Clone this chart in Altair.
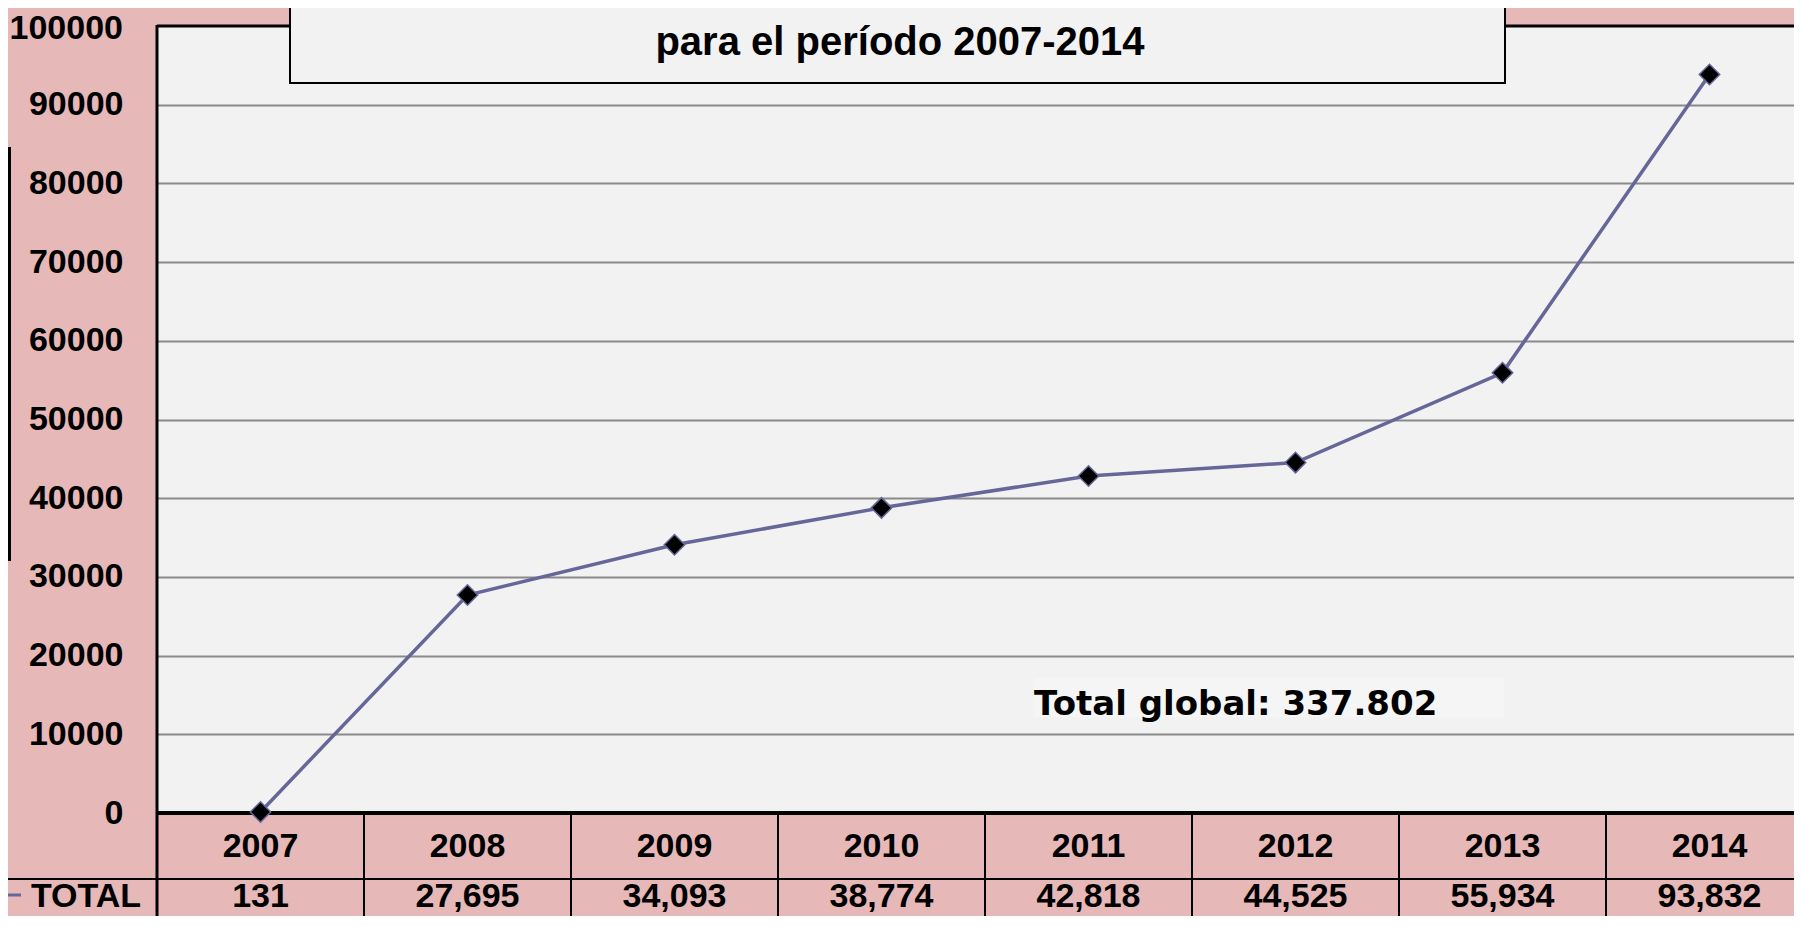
import altair as alt
import pandas as pd

# ---- data ----
years = [2007, 2008, 2009, 2010, 2011, 2012, 2013, 2014]
totals = [131, 27695, 34093, 38774, 42818, 44525, 55934, 93832]
y_label_ticks = [0, 10000, 20000, 30000, 40000, 50000, 60000, 70000, 80000, 90000]
top_tick_label = ["100000"]
series_name = "TOTAL"
title_text = "para el período 2007-2014"
total_label = "Total global: 337.802"

df = pd.DataFrame({"year": years, "total": totals})

PINK = "#E6B8B7"
PLOT = "#F2F2F2"
LINE = "#666699"
FONT = "Liberation Sans"

W, H = 1637, 787          # plot area (clipped at right edge like the reference)
COL_W = 207               # width of one year column in px
xs = alt.Scale(domain=[2006.5, 2006.5 + W / COL_W], nice=False, zero=False)
ys = alt.Scale(domain=[0, 100000], nice=False, zero=False)

ROW2_BASE = 881


def one(**kw):
    return alt.Chart(pd.DataFrame(kw if kw else {"a": [0]}))


# table cells
cells = alt.Chart(df).transform_calculate(x0="datum.year - 0.5", x1="datum.year + 0.5")
row1 = cells.mark_rect(fill=PINK, stroke="black", strokeWidth=2).encode(
    x=alt.X("x0:Q", scale=xs, axis=None), x2="x1:Q",
    y=alt.value(787), y2=alt.value(853))
row2 = cells.mark_rect(fill=PINK, stroke="black", strokeWidth=2).encode(
    x=alt.X("x0:Q", scale=xs, axis=None), x2="x1:Q",
    y=alt.value(853), y2=alt.value(980))

year_text = alt.Chart(df).mark_text(font=FONT, fontWeight="bold", fontSize=34,
                                    baseline="middle", align="center", color="black").encode(
    x=alt.X("year:Q", scale=xs, axis=None), y=alt.value(821),
    text=alt.Text("year:Q", format="d"))
val_text = alt.Chart(df).mark_text(font=FONT, fontWeight="bold", fontSize=34,
                                   baseline="alphabetic", align="center", color="black").encode(
    x=alt.X("year:Q", scale=xs, axis=None), y=alt.value(ROW2_BASE),
    text=alt.Text("total:Q", format=","))

# left column of the table: legend key + series name
row_sep = one().mark_rule(color="black", strokeWidth=2).encode(
    x=alt.value(-170), x2=alt.value(W + 50), y=alt.value(853))
key_line = one().mark_rule(color=LINE, strokeWidth=3).encode(
    x=alt.value(-170), x2=alt.value(-136), y=alt.value(ROW2_BASE - 12))
total_name = one(t=[series_name]).mark_text(font=FONT, fontWeight="bold", fontSize=34,
                                            baseline="alphabetic", align="center", color="black").encode(
    x=alt.value(-71), y=alt.value(ROW2_BASE), text="t:N")

# plot borders
left_border = one().mark_rule(color="black", strokeWidth=3).encode(
    x=alt.value(0), y=alt.value(-1), y2=alt.value(980))
top_border = one().mark_rule(color="black", strokeWidth=3).encode(
    x=alt.value(0), x2=alt.value(W + 50), y=alt.value(0))
bottom_border = one().mark_rule(color="black", strokeWidth=4).encode(
    x=alt.value(0), x2=alt.value(W + 50), y=alt.value(787))

# cut-off axis-title box at far left
ytitle_box = one().mark_rule(color="black", strokeWidth=6).encode(
    x=alt.value(-149), y=alt.value(121), y2=alt.value(535))

# series
line = alt.Chart(df).mark_line(color=LINE, strokeWidth=3.5).encode(
    x=alt.X("year:Q", scale=xs, axis=None),
    y=alt.Y("total:Q", scale=ys, title=None,
            axis=alt.Axis(values=y_label_ticks, grid=True, gridColor="#8a8a8a", gridWidth=2,
                          ticks=False, tickSize=0, domain=False, labelPadding=34,
                          labelFont=FONT, labelFontWeight="bold", labelFontSize=34,
                          labelColor="black", labelFlush=False, labelOverlap=False,
                          format="d")))
points = alt.Chart(df).mark_point(shape="diamond", size=420, filled=True, fill="black",
                                  stroke=LINE, strokeWidth=1.5, opacity=1).encode(
    x=alt.X("year:Q", scale=xs, axis=None),
    y=alt.Y("total:Q", scale=ys))

# top tick label, nudged down a little so it stays inside the picture
top_label = one(t=top_tick_label).mark_text(font=FONT, fontWeight="bold", fontSize=34,
                                            baseline="middle", align="right", color="black").encode(
    x=alt.value(-34), y=alt.value(3), text="t:N")

# title box
title_box = one().mark_rect(fill=PLOT, stroke="black", strokeWidth=2).encode(
    x=alt.value(133), x2=alt.value(1348), y=alt.value(-80), y2=alt.value(57))
title = one(t=[title_text]).mark_text(font=FONT, fontWeight="bold", fontSize=40,
                                      baseline="alphabetic", align="center", color="black").encode(
    x=alt.value(743), y=alt.value(29), text="t:N")

# total global annotation
total_bg = one().mark_rect(fill="#F5F5F5").encode(
    x=alt.value(877), x2=alt.value(1347), y=alt.value(652), y2=alt.value(691))
total_txt = one(t=[total_label]).mark_text(font="DejaVu Sans", fontWeight="bold", fontSize=34,
                                           baseline="alphabetic", align="left", color="black").encode(
    x=alt.value(877), y=alt.value(689), text="t:N")

chart = alt.layer(
    line.mark_line(opacity=0),  # carries the axis/grid underneath everything
    top_label,
    row1, row2, year_text, val_text, row_sep, key_line, total_name,
    left_border, top_border, bottom_border, ytitle_box,
    total_bg, total_txt,
    line, points,
    title_box, title,
).properties(
    width=W, height=H,
    padding={"left": 149, "top": 18, "right": 0, "bottom": 103},
    autosize=alt.AutoSizeParams(type="none"),
    background=PINK,
).configure_view(fill=PLOT, stroke="transparent")

chart.save("out.html", embed_options={"renderer": "svg", "actions": False})
